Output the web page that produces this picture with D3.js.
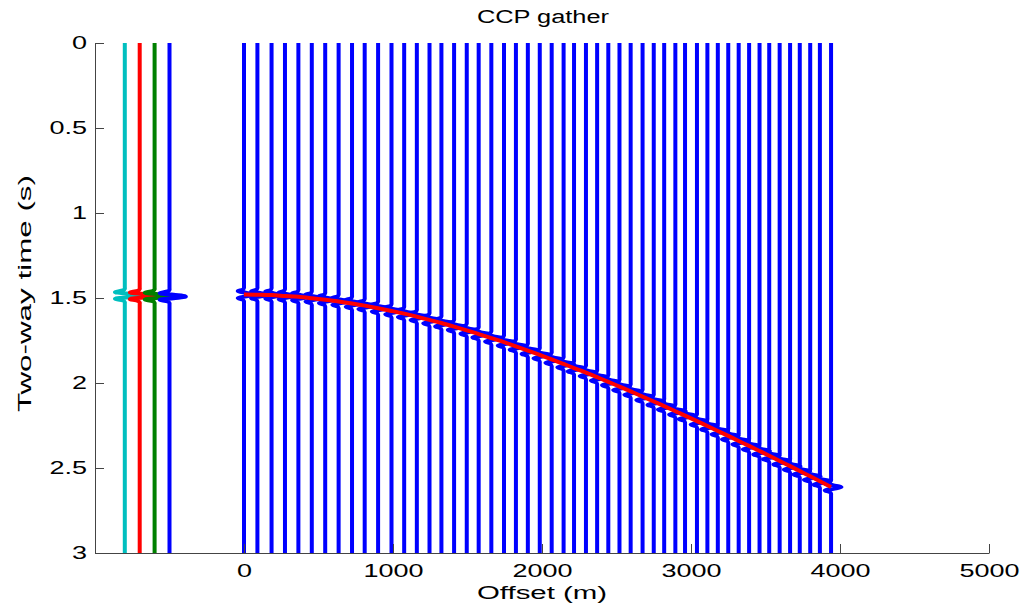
<!DOCTYPE html>
<html>
<head>
<meta charset="utf-8">
<script src="https://cdn.jsdelivr.net/npm/d3@7"></script>
<style>
  body { margin: 0; background: #fff; }
  text { font-family: "Liberation Sans", Arial, Helvetica, sans-serif; }
</style>
</head>
<body>
<div id="chart"></div>
<script>
// offsets of the four reference traces on the left (m) and their colours
var refOffsets = [-800, -700, -600, -500];
var refColors = ['#00bfbf', '#ff0000', '#008000', '#0000ff'];
var refTimes = [1.485, 1.487, 1.489, 1.491];

// gather trace offsets (m)
var offsets = [0, 90, 185, 275, 365, 455, 545, 635, 725, 810, 900, 990, 1075, 1160, 1245,
    1325, 1410, 1495, 1575, 1660, 1745, 1825, 1905, 1985, 2065, 2145, 2215, 2295, 2370,
    2445, 2520, 2595, 2675, 2750, 2820, 2895, 2960, 3040, 3110, 3180, 3250, 3320, 3390,
    3460, 3525, 3595, 3665, 3730, 3800, 3865, 3940];

// picked event times (s) along the red curve
var picks = [1.480, 1.481, 1.483, 1.488, 1.493, 1.501, 1.510, 1.520, 1.532, 1.545, 1.560,
    1.576, 1.592, 1.610, 1.629, 1.647, 1.668, 1.690, 1.712, 1.736, 1.760, 1.784, 1.809,
    1.835, 1.861, 1.888, 1.912, 1.939, 1.966, 1.993, 2.021, 2.049, 2.080, 2.109, 2.136,
    2.166, 2.192, 2.224, 2.253, 2.282, 2.311, 2.341, 2.370, 2.400, 2.428, 2.459, 2.489,
    2.518, 2.549, 2.578, 2.612];

// wavelet shape: time lag (s) and normalised amplitude
var waveletLag = [-0.05, -0.04, -0.03, -0.02, -0.01, 0, 0.01, 0.02, 0.03, 0.04, 0.05];
var waveletAmp = [0, 0, -0.1, -0.6, 0.25, 1, 0.25, -0.6, -0.1, 0, 0];

var xTicks = [0, 1000, 2000, 3000, 4000, 5000];
var yTicks = [0, 0.5, 1, 1.5, 2, 2.5, 3];

var width = 1023, height = 605;
var svg = d3.select('#chart').append('svg')
    .attr('width', width)
    .attr('height', height);

var x = d3.scaleLinear().domain([-1000, 5000]).range([95, 989]);
var y = d3.scaleLinear().domain([0, 3]).range([43, 553]);

function tracePoints(offset, t0, amp) {
    var pts = [[offset, 0]];
    waveletLag.forEach(function (lag, i) {
        pts.push([offset + amp * waveletAmp[i], t0 + lag]);
    });
    pts.push([offset, 3]);
    return pts;
}

var line = d3.line()
    .x(function (d) { return x(d[0]); })
    .y(function (d) { return y(d[1]); })
    .curve(d3.curveCatmullRom);

var plot = svg.append('g');

// reference traces
refOffsets.forEach(function (off, i) {
    plot.append('path')
        .attr('d', line(tracePoints(off, refTimes[i], 110)))
        .attr('fill', 'none')
        .attr('stroke', refColors[i])
        .attr('stroke-width', 4);
});

// gather traces
offsets.forEach(function (off, i) {
    plot.append('path')
        .attr('d', line(tracePoints(off, picks[i], 70)))
        .attr('fill', 'none')
        .attr('stroke', '#0000ff')
        .attr('stroke-width', 4);
});

// moveout curve
plot.append('path')
    .attr('d', d3.line()
        .x(function (d) { return x(d); })
        .y(function (d, i) { return y(picks[i]); })
        .curve(d3.curveMonotoneX)(offsets))
    .attr('fill', 'none')
    .attr('stroke', '#ff0000')
    .attr('stroke-width', 4);

// axes
var sx = 1.5;
var xAxis = svg.append('g')
    .attr('transform', 'translate(0,' + y(3) + ')')
    .call(d3.axisBottom(x).tickValues(xTicks).tickSizeInner(-9).tickSizeOuter(0).tickPadding(11)
        .tickFormat(function (d) { return String(d); }));
var yAxis = svg.append('g')
    .attr('transform', 'translate(' + x(-1000) + ',0)')
    .call(d3.axisLeft(y).tickValues(yTicks).tickSizeInner(-9).tickSizeOuter(0).tickPadding(7)
        .tickFormat(function (d) { return String(d); }));

[xAxis, yAxis].forEach(function (a) {
    a.select('.domain').attr('stroke', '#444').attr('stroke-width', 1);
    a.selectAll('.tick line').attr('stroke', '#444');
    a.selectAll('.tick text')
        .attr('fill', '#000')
        .attr('transform', 'scale(' + sx + ',1)')
        .style('font-size', '18px')
        .style('font-family', '"Liberation Sans", Arial, sans-serif');
});
yAxis.selectAll('.tick text').attr('x', -8 / sx);

svg.append('text')
    .attr('x', 477).attr('y', 23)
    .attr('textLength', 132)
    .attr('lengthAdjust', 'spacingAndGlyphs')
    .style('font-size', '18px')
    .text('CCP gather');

svg.append('text')
    .attr('x', 477).attr('y', 599)
    .attr('textLength', 130)
    .attr('lengthAdjust', 'spacingAndGlyphs')
    .style('font-size', '18px')
    .text('Offset (m)');

svg.append('text')
    .attr('transform', 'translate(31,412) rotate(-90)')
    .attr('textLength', 237)
    .attr('lengthAdjust', 'spacingAndGlyphs')
    .style('font-size', '19px')
    .text('Two-way time (s)');
</script>
</body>
</html>
